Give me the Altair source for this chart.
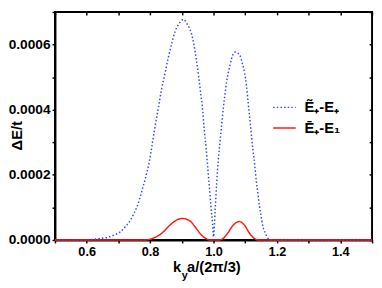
import altair as alt
import pandas as pd

# ---- data ----
series_names = ["Ẽ₊-E₊", "Ē₊-E₁"]
series_colors = ["#3344ff", "#ff1a1a"]

blue_x = [0.50, 0.55, 0.597, 0.624, 0.644, 0.665, 0.686, 0.706, 0.725, 0.740, 0.750,
          0.759, 0.766, 0.772, 0.777, 0.783, 0.788, 0.793, 0.797, 0.805, 0.815,
          0.826, 0.836, 0.847, 0.857, 0.868, 0.878, 0.892, 0.905, 0.918, 0.930,
          0.938, 0.946, 0.953, 0.959, 0.966, 0.971, 0.977, 0.982, 0.987, 0.992,
          0.997, 1.000, 1.005, 1.010, 1.015, 1.021, 1.026, 1.031, 1.036, 1.041,
          1.049, 1.057, 1.069, 1.083, 1.091, 1.098, 1.104, 1.109, 1.114, 1.119,
          1.124, 1.130, 1.135, 1.140, 1.145, 1.150, 1.155, 1.164, 1.171, 1.182, 1.50]
blue_y = [0.0, 0.0, 0.0, 0.02e-4, 0.05e-4, 0.08e-4, 0.15e-4, 0.25e-4, 0.44e-4, 0.64e-4,
          0.84e-4, 1.03e-4, 1.23e-4, 1.43e-4, 1.62e-4, 1.81e-4, 2.01e-4, 2.20e-4,
          2.38e-4, 2.84e-4, 3.45e-4, 4.05e-4, 4.62e-4, 5.12e-4, 5.58e-4, 6.02e-4,
          6.38e-4, 6.65e-4, 6.77e-4, 6.61e-4, 6.35e-4, 6.01e-4, 5.52e-4, 5.03e-4,
          4.55e-4, 3.96e-4, 3.37e-4, 2.79e-4, 2.20e-4, 1.62e-4, 1.03e-4, 0.50e-4,
          0.10e-4, 0.90e-4, 1.75e-4, 2.45e-4, 3.05e-4, 3.57e-4, 4.06e-4, 4.45e-4,
          4.84e-4, 5.23e-4, 5.57e-4, 5.77e-4, 5.67e-4, 5.42e-4, 5.13e-4, 4.74e-4,
          4.25e-4, 3.77e-4, 3.28e-4, 2.79e-4, 2.30e-4, 1.81e-4, 1.43e-4, 1.03e-4,
          0.74e-4, 0.45e-4, 0.20e-4, 0.06e-4, 0.0, 0.0]

red_x = [0.50, 0.785, 0.805, 0.836, 0.862, 0.883, 0.902, 0.925, 0.946, 0.961, 0.977,
         0.987, 1.018, 1.024, 1.044, 1.060, 1.081, 1.098, 1.114, 1.130, 1.140, 1.50]
red_y = [0.0, 0.0, 0.04e-4, 0.20e-4, 0.45e-4, 0.61e-4, 0.66e-4, 0.59e-4, 0.35e-4,
         0.16e-4, 0.04e-4, 0.0, 0.0, 0.01e-4, 0.20e-4, 0.43e-4, 0.565e-4, 0.45e-4,
         0.20e-4, 0.04e-4, 0.0, 0.0]

x_ticks = [0.5, 0.6, 0.7, 0.8, 0.9, 1.0, 1.1, 1.2, 1.3, 1.4, 1.5]
y_ticks = [0.0, 0.0001, 0.0002, 0.0003, 0.0004, 0.0005, 0.0006, 0.0007]

x_title_parts = ["k", "y", "a/(2π/3)"]
y_title = "ΔE/t"

df = pd.concat([
    pd.DataFrame({"x": blue_x, "y": blue_y, "series": series_names[0], "order": 0}),
    pd.DataFrame({"x": red_x, "y": red_y, "series": series_names[1], "order": 1}),
], ignore_index=True)

FONT = "Liberation Sans"

xscale = alt.Scale(domain=[0.5, 1.5], nice=False, zero=False)
yscale = alt.Scale(domain=[0, 0.0007], nice=False, zero=True)

legend = alt.Legend(
    title=None, orient="none", legendX=222, legendY=85, symbolType="stroke",
    symbolSize=529, symbolStrokeWidth=1.5, labelFont=FONT, labelFontSize=15,
    labelFontWeight="bold", labelColor="black", labelOffset=8, rowPadding=0,
    padding=0,
)

lines = alt.Chart(df).mark_line(strokeWidth=1.5, interpolate="monotone").encode(
    x=alt.X("x:Q", scale=xscale, axis=alt.Axis(
        values=x_ticks, title=None, tickSize=3, tickWidth=1.5, tickColor="black",
        domainColor="black", domainWidth=2, labelFont=FONT, labelFontSize=13,
        labelFontWeight="bold", labelColor="black", labelPadding=3,
        labelExpr="(round(datum.value*10) % 2 == 0 && datum.value > 0.55 && datum.value < 1.45) ? format(datum.value, '.1f') : ''",
        grid=False)),
    y=alt.Y("y:Q", scale=yscale, axis=alt.Axis(
        values=y_ticks, title=y_title, tickSize=3, tickWidth=1.5, tickColor="black",
        domainColor="black", domainWidth=2, labelFont=FONT, labelFontSize=14,
        labelFontWeight="bold", labelColor="black", labelPadding=2,
        labelExpr="(round(datum.value*10000) % 2 == 0) ? format(datum.value, '.4f') : ''",
        titleFont=FONT, titleFontSize=15, titleFontWeight="bold", titleColor="black",
        titleAngle=270, titleX=-39, titleY=126, titleAlign="center", titleBaseline="middle",
        grid=False)),
    color=alt.Color("series:N", scale=alt.Scale(domain=series_names, range=series_colors),
                    legend=legend),
    strokeDash=alt.StrokeDash("series:N", scale=alt.Scale(domain=series_names,
                              range=[[1.5, 2.2], [1, 0]]), legend=legend),
    order="order:Q",
)

frame_ticks = alt.Chart(df).mark_point(opacity=0).encode(
    x=alt.X("x:Q", scale=xscale, axis=alt.Axis(
        orient="top", values=x_ticks, title=None, labels=False, domain=False,
        tickSize=3, tickWidth=1.5, tickColor="black", offset=-3, grid=False)),
    y=alt.Y("y:Q", scale=yscale, axis=alt.Axis(
        orient="right", values=y_ticks, title=None, labels=False, domain=False,
        tickSize=3, tickWidth=1.5, tickColor="black", offset=-3, grid=False)),
)

t_k = alt.Chart(pd.DataFrame({"t": [x_title_parts[0]]})).mark_text(
    font=FONT, fontSize=15, fontWeight="bold", align="right", baseline="alphabetic",
    color="black").encode(x=alt.value(129), y=alt.value(266), text="t:N")
t_y = alt.Chart(pd.DataFrame({"t": [x_title_parts[1]]})).mark_text(
    font=FONT, fontSize=11, fontWeight="bold", align="left", baseline="alphabetic",
    color="black").encode(x=alt.value(129.5), y=alt.value(273), text="t:N")
t_a = alt.Chart(pd.DataFrame({"t": [x_title_parts[2]]})).mark_text(
    font=FONT, fontSize=15, fontWeight="bold", align="left", baseline="alphabetic",
    color="black").encode(x=alt.value(135), y=alt.value(266), text="t:N")

chart = alt.layer(lines, frame_ticks, t_k, t_y, t_a).resolve_axis(
    x="independent", y="independent"
).properties(
    width=324, height=233,
    autosize=alt.AutoSizeParams(type="none"),
    padding={"left": 48, "top": 1, "right": 2, "bottom": 46},
).configure_view(stroke="black", strokeWidth=2)

chart.save("out.html", embed_options={"renderer": "svg", "actions": False})
